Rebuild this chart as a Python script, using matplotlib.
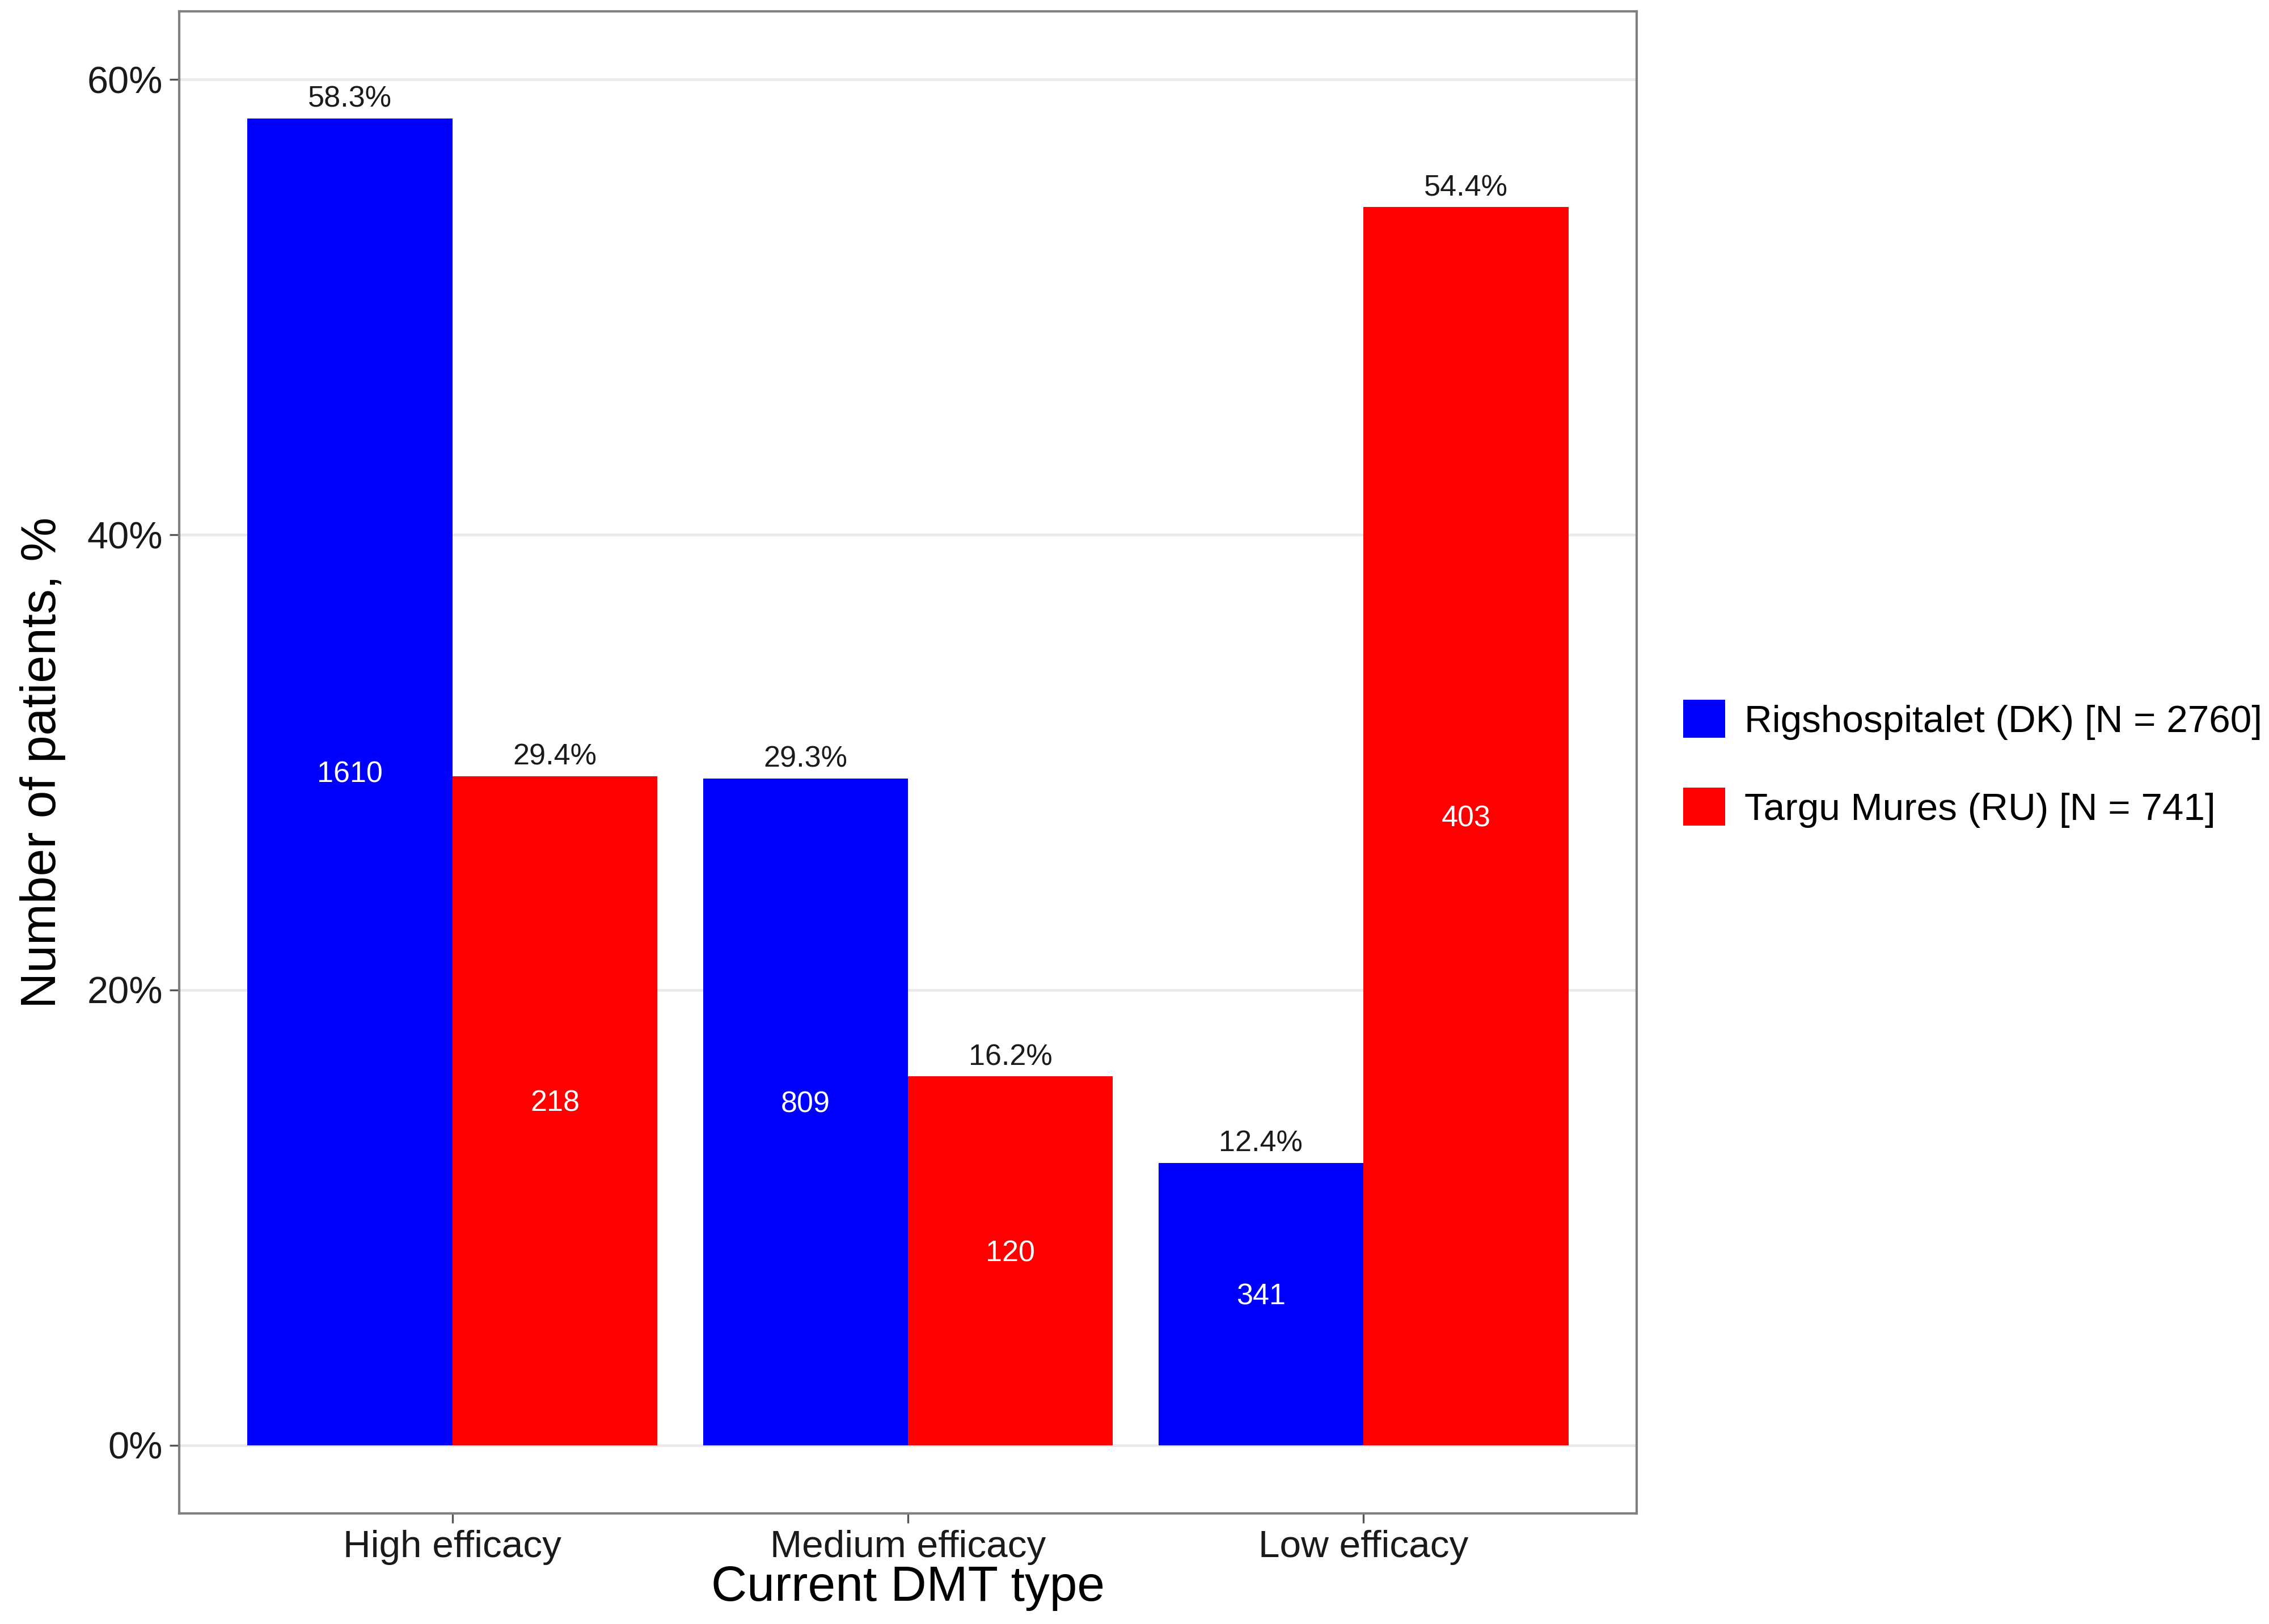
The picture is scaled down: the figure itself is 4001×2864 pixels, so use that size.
import matplotlib
matplotlib.use("Agg")
import matplotlib.pyplot as plt
from matplotlib.patches import Patch
import numpy as np

categories = ["High efficacy", "Medium efficacy", "Low efficacy"]
series_names = ["Rigshospitalet (DK) [N = 2760]", "Targu Mures (RU) [N = 741]"]
dk_pct = [58.3, 29.3, 12.4]
ru_pct = [29.4, 16.2, 54.4]
dk_n = [1610, 809, 341]
ru_n = [218, 120, 403]
colors = ["#0000FF", "#FF0000"]
yticks = [0, 20, 40, 60]
ytick_labels = ["0%", "20%", "40%", "60%"]

plt.rcParams['font.family'] = ['Liberation Sans', 'DejaVu Sans']

W, H = 4001, 2864
dpi = 300
fig = plt.figure(figsize=(W / dpi, H / dpi), dpi=dpi)
ax = fig.add_axes([316 / W, 1 - 2669 / H, (2886 - 316) / W, (2669 - 20) / H])

x = np.arange(1, len(categories) + 1)
bw = 0.45
for k, (pct, n) in enumerate([(dk_pct, dk_n), (ru_pct, ru_n)]):
    xs = x + (k - 0.5) * bw
    ax.bar(xs, pct, width=bw, color=colors[k], zorder=2, linewidth=0)
    for xi, p, c in zip(xs, pct, n):
        ax.annotate(f"{p:.1f}%", (xi, p), xytext=(0, 2.2), textcoords="offset points",
                    ha="center", va="bottom", fontsize=12.5, color="#1a1a1a")
        ax.annotate(f"{c}", (xi, p / 2), xytext=(0, 3), textcoords="offset points",
                    ha="center", va="center", fontsize=12.5, color="white")

ax.set_xlim(0.4, 3.6)
ax.set_ylim(-3.0, 63.0)
ax.set_xticks(x)
ax.set_xticklabels(categories, fontsize=16.2, color="#1a1a1a")
ax.set_yticks(yticks)
ax.set_yticklabels(ytick_labels, fontsize=16, color="#1a1a1a")
ax.tick_params(axis="both", length=4, width=0.8, color="#555555", pad=3)
ax.grid(axis="y", color="#EBEBEB", linewidth=1.2, zorder=0)
ax.set_axisbelow(True)
for s in ax.spines.values():
    s.set_color("#808080")
    s.set_linewidth(1.0)

ax.set_xlabel("Current DMT type", fontsize=21, labelpad=0)
ax.set_ylabel("Number of patients, %", fontsize=21, labelpad=9)

handles = [Patch(facecolor=colors[0], edgecolor="none"), Patch(facecolor=colors[1], edgecolor="none")]
fig.legend(handles, series_names, loc="center left", bbox_to_anchor=(2968 / W, 1 - 1347 / H),
           frameon=False, fontsize=16.2, handlelength=1.1, handleheight=1.15,
           handletextpad=0.5, labelspacing=1.25, borderpad=0, borderaxespad=0)

fig.savefig("out.png", dpi=dpi, facecolor="white")
